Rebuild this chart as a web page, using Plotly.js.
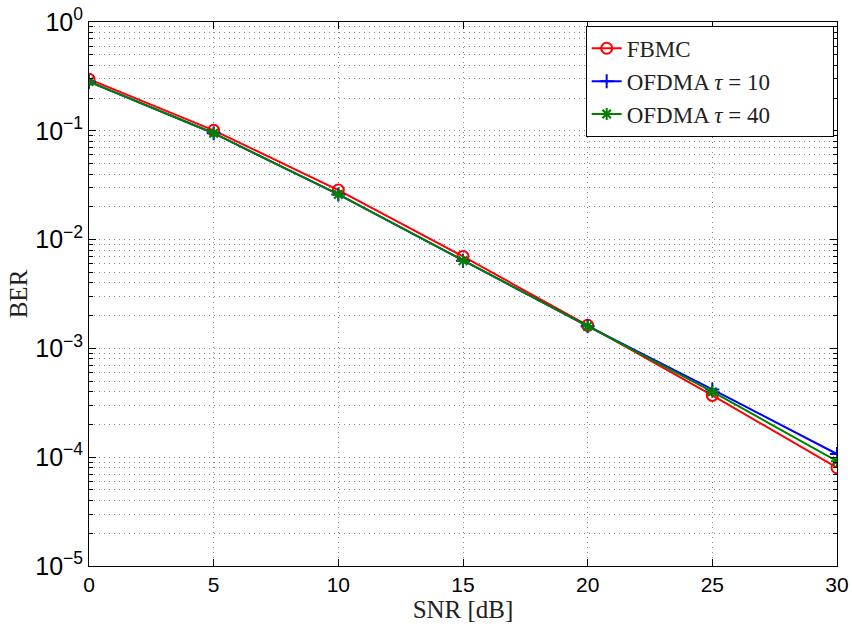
<!DOCTYPE html>
<html>
<head>
<meta charset="utf-8">
<script src="https://cdn.plot.ly/plotly-3.0.1.min.js"></script>
<style>html,body{margin:0;padding:0;background:#fff;}#chart{width:852px;height:628px;}</style>
</head>
<body>
<div id="chart"></div>
<script>
var snr = [0, 5, 10, 15, 20, 25, 30];
var berFBMC = [0.298, 0.101, 0.0285, 0.0070, 0.00163, 0.00037, 0.000080];
var berOFDMA10 = [0.283, 0.095, 0.0260, 0.0064, 0.00160, 0.00042, 0.000107];
var berOFDMA40 = [0.283, 0.095, 0.0260, 0.0064, 0.00160, 0.00040, 0.000092];
var seriesNames = ['FBMC', 'OFDMA <i>τ</i> = 10', 'OFDMA <i>τ</i> = 40'];
var yTickVals = [1e-5, 1e-4, 1e-3, 1e-2, 1e-1, 1];
var yTickText = ['10<sup>−5</sup>', '10<sup>−4</sup>', '10<sup>−3</sup>', '10<sup>−2</sup>', '10<sup>−1</sup>', '10<sup>0</sup>'];
var xTickVals = [0, 5, 10, 15, 20, 25, 30];

var minorVals = [];
for (var e = -5; e < 0; e++) {
  for (var m = 2; m <= 9; m++) minorVals.push(m * Math.pow(10, e));
}

// trailing no-break spaces widen the legend box like the MATLAB one
var legendPad = '\u00a0\u00a0\u00a0\u00a0\u00a0\u00a0\u00a0\u00a0\u00a0\u00a0';

var traces = [
  {x: snr, y: berFBMC, name: seriesNames[0], mode: 'lines+markers',
   line: {color: 'rgb(255,0,0)', width: 2},
   marker: {symbol: 'circle-open', size: 11, color: 'rgb(255,0,0)', line: {width: 2}}},
  {x: snr, y: berOFDMA10, name: seriesNames[1], mode: 'lines+markers',
   line: {color: 'rgb(0,0,255)', width: 2},
   marker: {symbol: 'cross-thin-open', size: 10, color: 'rgb(0,0,255)', line: {width: 2, color: 'rgb(0,0,255)'}}},
  {x: snr, y: berOFDMA40, name: seriesNames[2] + legendPad, mode: 'lines+markers',
   line: {color: 'rgb(0,128,0)', width: 2},
   marker: {symbol: 'asterisk-open', size: 10, color: 'rgb(0,128,0)', line: {width: 2, color: 'rgb(0,128,0)'}}}
];

var gridCol = '#8a8a8a';
var gridDash = '1px,4px';

var layout = {
  width: 852, height: 628,
  margin: {l: 89, r: 15, t: 22, b: 62},
  paper_bgcolor: '#fff', plot_bgcolor: '#fff',
  showlegend: true,
  xaxis: {
    range: [0, 30], tickvals: xTickVals, ticks: 'inside', ticklen: 7, tickcolor: '#000',
    showline: true, linecolor: '#000', linewidth: 1, mirror: 'allticks',
    showgrid: true, gridcolor: gridCol, griddash: gridDash, gridwidth: 1,
    zeroline: false,
    tickfont: {family: 'Liberation Sans, Arial, sans-serif', size: 21, color: '#000'},
    title: {text: 'SNR [dB]', font: {family: 'Liberation Serif, DejaVu Serif, serif', size: 25, color: '#222'}, standoff: 2}
  },
  yaxis: {
    type: 'log', range: [-5, 0], tickvals: yTickVals, ticktext: yTickText,
    ticks: 'inside', ticklen: 7, tickcolor: '#000',
    showline: true, linecolor: '#000', linewidth: 1, mirror: 'allticks',
    showgrid: true, gridcolor: gridCol, griddash: gridDash, gridwidth: 1,
    zeroline: false,
    minor: {tickvals: minorVals, ticks: 'inside', ticklen: 4, tickcolor: '#000', showgrid: true, gridcolor: gridCol, griddash: gridDash, gridwidth: 1},
    tickfont: {family: 'Liberation Sans, Arial, sans-serif', size: 25, color: '#000'},
    title: {text: 'BER', font: {family: 'Liberation Serif, DejaVu Serif, serif', size: 25, color: '#222'}, standoff: 0}
  },
  legend: {
    x: 0.664, y: 0.993, xanchor: 'left', yanchor: 'top',
    bgcolor: '#fff', bordercolor: '#000', borderwidth: 1,
    font: {family: 'Liberation Serif, DejaVu Serif, serif', size: 23, color: '#222'},
    itemwidth: 30, tracegroupgap: 0
  }
};

Plotly.newPlot('chart', traces, layout, {displayModeBar: false, staticPlot: true});
</script>
</body>
</html>
